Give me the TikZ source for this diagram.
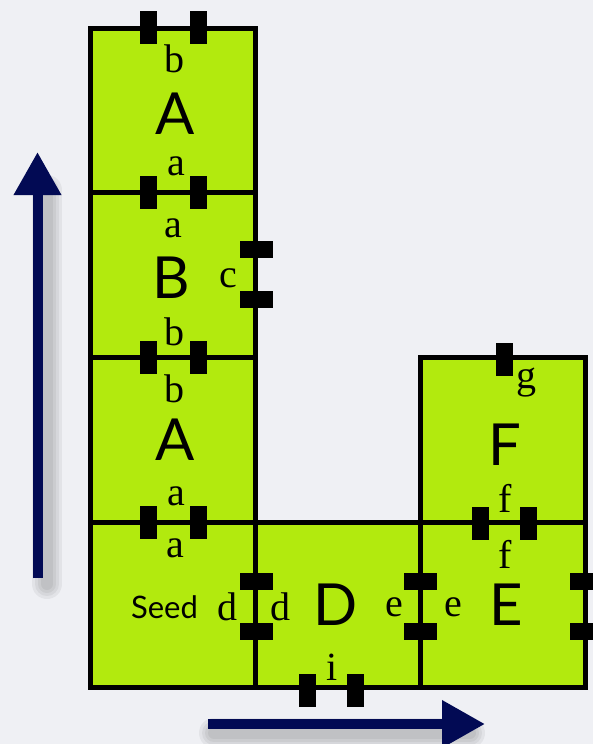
\documentclass[tikz,border=0pt]{standalone}
\usepackage{fontspec}
\setmainfont{Liberation Serif}
\newfontfamily\tilefont{Lato}
\usetikzlibrary{arrows.meta}
\definecolor{bgc}{RGB}{239,240,244}
\definecolor{tilegreen}{RGB}{178,234,14}
\definecolor{navy}{RGB}{2,10,84}
\tikzset{
  cell/.style={draw=black, fill=tilegreen, line width=5pt, minimum width=165pt, minimum height=164.75pt, inner sep=0pt, outer sep=0pt},
  padv/.style={fill=black, minimum width=17pt, minimum height=33pt, inner sep=0pt},
  padh/.style={fill=black, minimum width=33pt, minimum height=17pt, inner sep=0pt},
  big/.style={font=\tilefont\fontsize{58}{60}\selectfont, inner sep=0pt},
  seedtxt/.style={font=\tilefont\fontsize{31}{33}\selectfont, inner sep=0pt},
  glue/.style={font=\fontsize{40}{42}\selectfont, inner sep=0pt},
  bigarrow/.style={draw=navy, line width=10pt, -{Triangle[length=43pt, width=45pt]}},
  shadowline/.style={draw=black, draw opacity=0.05, line cap=round}
}
\begin{document}
\begin{tikzpicture}[x=1pt, y=-1pt]
\fill[bgc] (0,0) rectangle (593,744);
\useasboundingbox (0,0) rectangle (593,744);
% cells
\node[cell] (A1) at (172.5,110.5) {};
\node[cell] (B) at (172.5,275.25) {};
\node[cell] (A2) at (172.5,440) {};
\node[cell] (S) at (172.5,604.75) {};
\node[cell] (D) at (337.5,604.75) {};
\node[cell] (E) at (502.5,604.75) {};
\node[cell] (F) at (502.5,440) {};
% pads
\node[padv] (p1) at (148.5,27.5) {};
\node[padv] (p2) at (198,27.5) {};
\node[padv] (p3) at (148.5,192.5) {};
\node[padv] (p4) at (198,192.5) {};
\node[padv] (p5) at (148.5,357.5) {};
\node[padv] (p6) at (198,357.5) {};
\node[padv] (p7) at (148.5,522.5) {};
\node[padv] (p8) at (198,522.5) {};
\node[padh] (p9) at (256.5,249) {};
\node[padh] (p10) at (256.5,299) {};
\node[padh] (p11) at (256,581) {};
\node[padh] (p12) at (256,631) {};
\node[padh] (p13) at (420.5,581) {};
\node[padh] (p14) at (420.5,631) {};
\node[padh] (p15) at (586,581) {};
\node[padh] (p16) at (586,631) {};
\node[padv] (p17) at (307,690) {};
\node[padv] (p18) at (355,690) {};
\node[padv] (p19) at (480,523.5) {};
\node[padv] (p20) at (528,523.5) {};
\node[padv] (p21) at (504,359) {};
% big letters
\node[big] (tA1) at (175.5,114) {A};
\node[big] (tB) at (171,277.5) {B};
\node[big] (tA2) at (175.5,440) {A};
\node[big] (tD) at (335.5,605) {D};
\node[big] (tE) at (506,605) {E};
\node[big] (tF) at (505,444.5) {F};
\node[seedtxt, anchor=base] (tS) at (164.5,618) {Seed};
% glue labels
\node[glue, anchor=base] (g1) at (174,72) {b};
\node[glue, anchor=base] (g2) at (176,175) {a};
\node[glue, anchor=base] (g3) at (173.5,237) {a};
\node[glue, anchor=base] (g4) at (228.5,287) {c};
\node[glue, anchor=base] (g5) at (174,345) {b};
\node[glue, anchor=base] (g6) at (174,402) {b};
\node[glue, anchor=base] (g7) at (176,505) {a};
\node[glue, anchor=base] (g8) at (175.5,557) {a};
\node[glue, anchor=base] (g9) at (227,620) {d};
\node[glue, anchor=base] (g10) at (280.5,620) {d};
\node[glue, anchor=base] (g11) at (394,616) {e};
\node[glue, anchor=base] (g12) at (453,616) {e};
\node[glue, anchor=base] (g13) at (332.5,680) {i};
\node[glue, anchor=base] (g14) at (505,568) {f};
\node[glue, anchor=base] (g15) at (505,512) {f};
\node[glue, anchor=base] (g16) at (526,388) {g};
% arrows
\coordinate (vs) at (37.5,578);
\coordinate (ve) at (37.5,152);
\coordinate (hs) at (208,724);
\coordinate (he) at (485,724);
\coordinate (vss) at (47,584);
\coordinate (vse) at (47,190);
\coordinate (hss) at (214,733);
\coordinate (hse) at (470,733);
\foreach \w in {30,24,18,12} {
  \draw[shadowline, line width=\w pt] (vss) -- (vse);
  \draw[shadowline, line width=\w pt] (hss) -- (hse);
}
\draw[bigarrow] (vs) -- (ve);
\draw[bigarrow] (hs) -- (he);
\end{tikzpicture}
\end{document}
